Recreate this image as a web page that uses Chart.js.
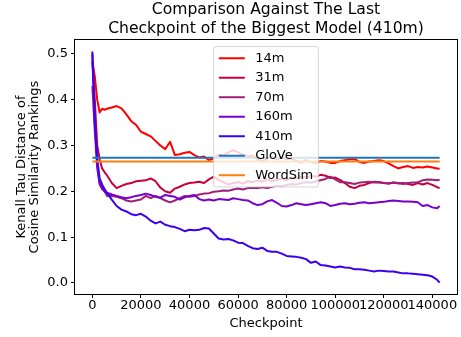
<!DOCTYPE html>
<html>
<head>
<meta charset="utf-8">
<script src="https://cdn.jsdelivr.net/npm/chart.js@4.4.0/dist/chart.umd.min.js"></script>
<style>
    html, body { margin: 0; padding: 0; background: #fff; }
    #wrap { width: 461px; height: 337px; }
</style>
</head>
<body>
<div id="wrap"><canvas id="chart" width="461" height="337"></canvas></div>
<script>
// ---- data ----
const checkpoints = [
    0, 1000, 2000, 3000, 4000, 5000, 6000,
    8000, 10000, 12000, 14000, 16000, 18000, 20000, 22000, 24000, 26000,
    28000, 30000, 32000, 34000, 36000, 38000, 40000, 42000, 44000, 46000,
    48000, 50000, 52000, 54000, 56000, 58000, 60000, 62000, 64000, 66000,
    68000, 70000, 72000, 74000, 76000, 78000, 80000, 82000, 84000, 86000,
    88000, 90000, 92000, 94000, 96000, 98000, 100000, 102000, 104000, 106000,
    108000, 110000, 112000, 114000, 116000, 118000, 120000, 122000, 124000, 126000,
    128000, 130000, 132000, 134000, 136000, 138000, 140000, 142000,
    143000
];

const series14m = [
    0.485, 0.45, 0.40, 0.372, 0.380, 0.378, 0.380,
    0.383, 0.386, 0.381, 0.368, 0.353, 0.345, 0.330, 0.325, 0.320, 0.310,
    0.300, 0.292, 0.308, 0.279, 0.281, 0.284, 0.286, 0.279, 0.274, 0.276,
    0.268, 0.272, 0.280, 0.278, 0.285, 0.290, 0.285, 0.280, 0.276, 0.278,
    0.270, 0.265, 0.272, 0.275, 0.270, 0.274, 0.270, 0.272, 0.266, 0.263,
    0.268, 0.264, 0.262, 0.266, 0.265, 0.262, 0.262, 0.266, 0.268, 0.270,
    0.270, 0.264, 0.262, 0.265, 0.266, 0.268, 0.266, 0.261, 0.255, 0.250,
    0.253, 0.255, 0.251, 0.253, 0.252, 0.254, 0.252, 0.250,
    0.249
];

const series31m = [
    0.48, 0.40, 0.30, 0.27, 0.25, 0.242, 0.235,
    0.218, 0.207, 0.212, 0.216, 0.218, 0.222, 0.223, 0.224, 0.228, 0.222,
    0.208, 0.200, 0.197, 0.206, 0.210, 0.215, 0.218, 0.219, 0.221, 0.218,
    0.226, 0.232, 0.225, 0.220, 0.215, 0.218, 0.220, 0.217, 0.222, 0.220,
    0.224, 0.221, 0.226, 0.222, 0.225, 0.228, 0.224, 0.230, 0.228, 0.232,
    0.230, 0.234, 0.232, 0.236, 0.234, 0.229, 0.230, 0.225, 0.218, 0.210,
    0.207, 0.212, 0.214, 0.218, 0.221, 0.220, 0.218, 0.217, 0.219, 0.217,
    0.218, 0.216, 0.214, 0.218, 0.215, 0.218, 0.214, 0.209,
    0.207
];

const series70m = [
    0.43, 0.33, 0.25, 0.215, 0.205, 0.200, 0.190,
    0.190, 0.188, 0.185, 0.180, 0.178, 0.180, 0.182, 0.190, 0.185, 0.190,
    0.185, 0.180, 0.176, 0.180, 0.185, 0.190, 0.188, 0.190, 0.193, 0.195,
    0.196, 0.199, 0.200, 0.202, 0.201, 0.204, 0.206, 0.204, 0.207, 0.208,
    0.207, 0.209, 0.207, 0.210, 0.212, 0.211, 0.214, 0.216, 0.215, 0.218,
    0.220, 0.219, 0.222, 0.224, 0.227, 0.232, 0.226, 0.220, 0.220, 0.218,
    0.216, 0.219, 0.220, 0.221, 0.219, 0.220, 0.218, 0.217, 0.219, 0.218,
    0.216, 0.218, 0.219, 0.220, 0.224, 0.226, 0.225, 0.224,
    0.225
];

const series160m = [
    0.50, 0.35, 0.26, 0.218, 0.207, 0.200, 0.197,
    0.193, 0.190, 0.187, 0.185, 0.187, 0.190, 0.192, 0.195, 0.192, 0.188,
    0.186, 0.192, 0.190, 0.188, 0.182, 0.187, 0.190, 0.192, 0.183, 0.180,
    0.182, 0.180, 0.183, 0.182, 0.181, 0.185, 0.183, 0.181, 0.180, 0.174,
    0.170, 0.172, 0.178, 0.181, 0.175, 0.168, 0.167, 0.170, 0.174, 0.172,
    0.170, 0.172, 0.174, 0.176, 0.174, 0.168, 0.170, 0.173, 0.174, 0.172,
    0.173, 0.175, 0.176, 0.174, 0.175, 0.176, 0.177, 0.179, 0.180, 0.179,
    0.178, 0.178, 0.177, 0.176, 0.168, 0.170, 0.165, 0.163,
    0.168
];

const series410m = [
    0.505, 0.36, 0.27, 0.228, 0.215, 0.205, 0.197,
    0.182, 0.168, 0.160, 0.156, 0.150, 0.148, 0.151, 0.145, 0.136, 0.130,
    0.134, 0.127, 0.124, 0.122, 0.118, 0.113, 0.116, 0.115, 0.116, 0.120,
    0.119, 0.108, 0.097, 0.095, 0.096, 0.093, 0.088, 0.087, 0.081, 0.076,
    0.074, 0.077, 0.070, 0.068, 0.068, 0.064, 0.059, 0.058, 0.057, 0.055,
    0.052, 0.044, 0.047, 0.039, 0.038, 0.036, 0.034, 0.036, 0.034, 0.033,
    0.030, 0.030, 0.029, 0.027, 0.025, 0.027, 0.026, 0.025, 0.025, 0.023,
    0.021, 0.021, 0.020, 0.019, 0.018, 0.017, 0.014, 0.007,
    0.001
];

// baselines are flat lines across the whole run
const gloveScore = 0.273;
const wordsimScore = 0.265;
const baselineSpan = [0, 143000];

const seriesLabels = ['14m', '31m', '70m', '160m', '410m', 'GloVe', 'WordSim'];
const seriesColors = ['#ff0000', '#c8003c', '#a01e78', '#7800c8', '#3c00f0', '#1f77b4', '#ff7f0e'];

const xTicks = [0, 20000, 40000, 60000, 80000, 100000, 120000, 140000];
const yTicks = [0.0, 0.1, 0.2, 0.3, 0.4, 0.5];

const titleLines = ['Comparison Against The Last', 'Checkpoint of the Biggest Model (410m)'];
const yLabelLines = ['Kenall Tau Distance of', 'Cosine Similarity Rankings'];
const xLabel = 'Checkpoint';

Chart.defaults.font.family = '"DejaVu Sans", sans-serif';
Chart.defaults.color = '#000';

// matplotlib style box around the plot area
const axesFrame = {
    id: 'axesFrame',
    afterDatasetsDraw(chart) {
        const { ctx, chartArea: a } = chart;
        ctx.save();
        ctx.strokeStyle = '#000';
        ctx.lineWidth = 1;
        const l = Math.round(a.left) - 0.5, t = Math.round(a.top) - 0.5;
        ctx.strokeRect(l, t, Math.round(a.right) - Math.round(a.left) + 1, Math.round(a.bottom) - Math.round(a.top) + 1);
        ctx.restore();
    }
};

// legend drawn inside the axes, upper centre, semi-transparent frame
const innerLegend = {
    id: 'innerLegend',
    afterDraw(chart) {
        const { ctx, chartArea: a } = chart;
        const fs = 13;
        const items = chart.data.datasets.map(ds => ({ label: ds.label, color: ds.borderColor }));

        ctx.save();
        ctx.font = fs + 'px "DejaVu Sans"';
        const textW = Math.max(...items.map(it => ctx.measureText(it.label).width));
        const pad = 0.4 * fs, handle = 2 * fs, gap = 0.8 * fs, rowH = fs, space = 0.5 * fs;
        const w = pad * 2 + handle + gap + textW;
        const h = pad * 2 + items.length * rowH + (items.length - 1) * space;
        const x = (a.left + a.right) / 2 - w / 2;
        const y = a.top + 0.5 * fs;

        ctx.beginPath();
        ctx.roundRect(x, y, w, h, 0.2 * fs);
        ctx.fillStyle = 'rgba(255,255,255,0.8)';
        ctx.fill();
        ctx.strokeStyle = 'rgba(204,204,204,0.8)';
        ctx.lineWidth = 1;
        ctx.stroke();

        items.forEach((it, i) => {
            const cy = y + pad + rowH / 2 + i * (rowH + space);
            ctx.strokeStyle = it.color;
            ctx.lineWidth = 2;
            ctx.beginPath();
            ctx.moveTo(x + pad, cy);
            ctx.lineTo(x + pad + handle, cy);
            ctx.stroke();
            ctx.fillStyle = '#000';
            ctx.textBaseline = 'middle';
            ctx.textAlign = 'left';
            ctx.fillText(it.label, x + pad + handle + gap, cy);
        });
        ctx.restore();
    }
};

function toPoints(xs, ys) {
    return xs.map((x, i) => ({ x: x, y: ys[i] }));
}

function makeDataset(i, points) {
    return {
        label: seriesLabels[i],
        data: points,
        borderColor: seriesColors[i],
        backgroundColor: seriesColors[i],
        borderWidth: 2,
        pointRadius: 0,
        tension: 0,
        fill: false,
        borderJoinStyle: 'round',
        // first series underneath, baselines on top (like matplotlib)
        order: seriesLabels.length - i
    };
}

const modelSeries = [series14m, series31m, series70m, series160m, series410m];
const datasets = modelSeries.map((s, i) => makeDataset(i, toPoints(checkpoints, s)));
datasets.push(makeDataset(5, toPoints(baselineSpan, [gloveScore, gloveScore])));
datasets.push(makeDataset(6, toPoints(baselineSpan, [wordsimScore, wordsimScore])));

const tickGrid = {
    display: true,
    drawOnChartArea: false,
    drawTicks: true,
    tickLength: 4,
    tickWidth: 1,
    tickColor: '#000'
};

new Chart(document.getElementById('chart').getContext('2d'), {
    type: 'line',
    data: { datasets: datasets },
    plugins: [axesFrame, innerLegend],
    options: {
        responsive: false,
        animation: false,
        devicePixelRatio: 1,
        events: [],
        layout: { padding: { top: 0, right: 4, bottom: 0, left: 0 } },
        plugins: {
            legend: { display: false },
            tooltip: { enabled: false },
            title: {
                display: true,
                fullSize: false,
                text: titleLines,
                color: '#000',
                font: { size: 15.6, weight: 'normal', lineHeight: 1.2 },
                padding: { top: 1, bottom: 1.6 }
            }
        },
        scales: {
            x: {
                type: 'linear',
                min: -7150,
                max: 150150,
                grid: tickGrid,
                border: { display: false },
                afterBuildTicks(scale) { scale.ticks = xTicks.map(v => ({ value: v })); },
                afterFit(scale) { scale.height = 43; },
                ticks: {
                    autoSkip: false,
                    maxRotation: 0,
                    minRotation: 0,
                    padding: 1,
                    color: '#000',
                    font: { size: 13, lineHeight: 1 },
                    callback: v => String(v)
                },
                title: {
                    display: true,
                    text: xLabel,
                    color: '#000',
                    font: { size: 13, lineHeight: 1.2 },
                    padding: { top: 0, bottom: 6 }
                }
            },
            y: {
                type: 'linear',
                min: -0.024,
                max: 0.530,
                grid: tickGrid,
                border: { display: false },
                afterBuildTicks(scale) { scale.ticks = yTicks.map(v => ({ value: v })); },
                afterFit(scale) { scale.width = 75; },
                ticks: {
                    padding: 3,
                    color: '#000',
                    font: { size: 13, lineHeight: 1 },
                    callback: v => Number(v).toFixed(1)
                },
                title: {
                    display: true,
                    text: yLabelLines,
                    color: '#000',
                    font: { size: 13, lineHeight: 1 },
                    padding: { top: 15, bottom: 0 }
                }
            }
        }
    }
});
</script>
</body>
</html>
